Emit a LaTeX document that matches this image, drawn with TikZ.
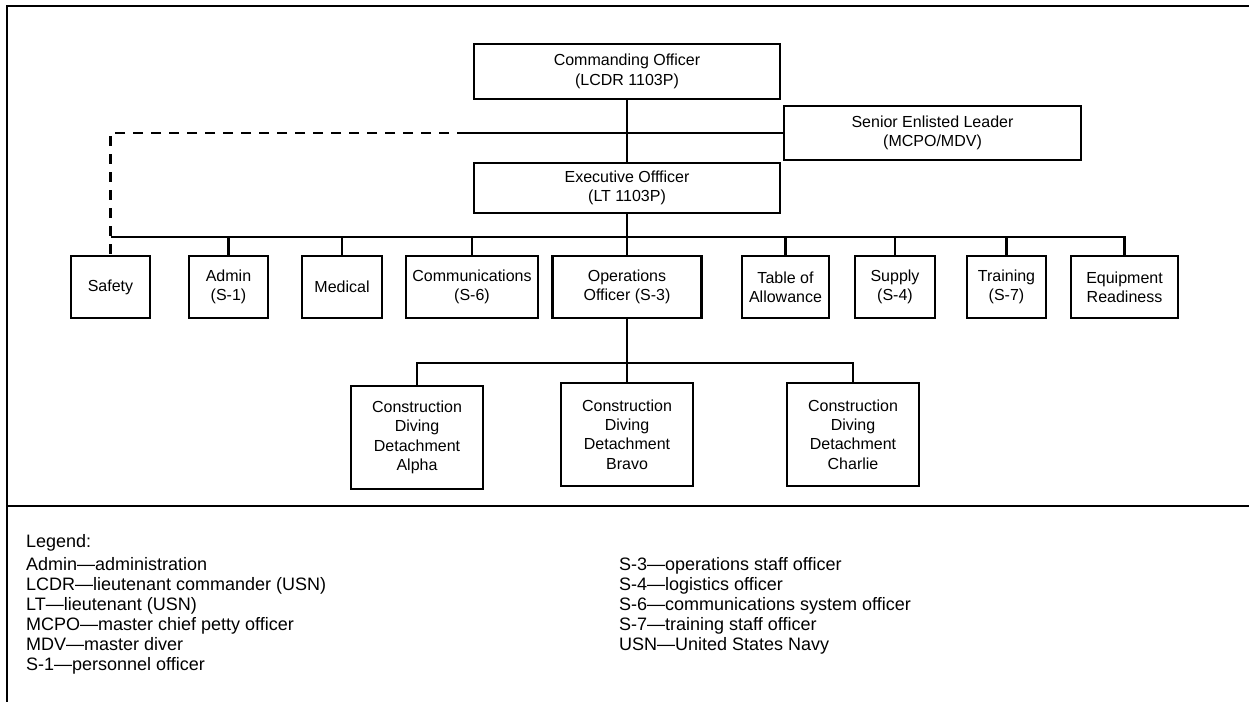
\documentclass[tikz,border=0pt]{standalone}
\usepackage{fontspec}
\setmainfont{Liberation Sans}
\begin{document}
\begin{tikzpicture}[x=.75pt,y=-.75pt,line width=1.7pt,
	box/.style={draw,align=center,inner sep=0pt,font=\fontsize{12}{14.5}\selectfont},
	leg/.style={anchor=base west,inner sep=0pt,font=\fontsize{13.5}{15}\selectfont},
	dashline/.style={dash pattern=on 7.5pt off 6pt}]
	\useasboundingbox (0,0) rectangle (1249,702);
	% khung
	\draw (7,702)--(7,6)--(1249,6);
	\draw (7,506)--(1249,506);
	\path
	(0,237) coordinate (bus)
	(0,363) coordinate (sub)
	(467,133) coordinate (dashend);
	% chỉ huy
	\node[box,minimum width=306*.75pt,minimum height=55*.75pt] (co) at (627,71.5) {Commanding Officer\\(LCDR 1103P)};
	\node[box,minimum width=297*.75pt,minimum height=54*.75pt] (sel) at (932.5,133) {Senior Enlisted Leader\\(MCPO/MDV)};
	\node[box,minimum width=306*.75pt,minimum height=50*.75pt] (xo) at (627,188) {Executive Offficer\\(LT 1103P)};
	% hàng phòng ban
	\foreach \n/\cx/\w/\t in {
		safety/110.5/79/Safety,
		admin/228.5/79/{Admin\\(S-1)},
		medical/342/80/Medical,
		comms/472/132/{Communications\\(S-6)},
		ops/627/149/{Operations\\Officer (S-3)},
		toa/785.5/87/{Table of\\Allowance},
		supply/895/80/{Supply\\(S-4)},
		training/1006.5/79/{Training\\(S-7)},
		equip/1124.5/107/{Equipment\\Readiness}}
	\node[box,minimum width=\w*.75pt,minimum height=62*.75pt] (\n) at (\cx,287) {\t};
	% phân đội
	\foreach \n/\cx/\cy/\t in {
		alpha/417/437.5/Alpha,
		bravo/627/434.5/Bravo,
		charlie/853/434.5/Charlie}
	\node[box,minimum width=132*.75pt,minimum height=103*.75pt] (\n) at (\cx,\cy) {Construction\\Diving\\Detachment\\\t};
	% đường nối
	\draw (co)--(xo);
	\draw (sel.west)--(dashend);
	\draw[dashline] (dashend)--(dashend -| safety.north)--(safety.north);
	\draw (xo.south)--(xo.south |- bus);
	\draw (bus -| safety.north)--(bus -| equip.north)--(equip.north);
	\foreach \n in {admin,medical,comms,ops,toa,supply,training}
	\draw (\n.north)--(\n.north |- bus);
	\draw (ops.south)--(bravo.north);
	\draw (alpha.north)--(alpha.north |- sub)--(charlie.north |- sub)--(charlie.north);
	% chú thích
	\node[leg] (legend) at (25,547) {Legend:};
	\foreach \t[count=\i] in {Admin—administration,
		LCDR—lieutenant commander (USN),
		LT—lieutenant (USN),
		MCPO—master chief petty officer,
		MDV—master diver,
		S-1—personnel officer}
	\node[leg] (left\i) at (25,550+20*\i) {\t};
	\foreach \t[count=\i] in {S-3—operations staff officer,
		S-4—logistics officer,
		S-6—communications system officer,
		S-7—training staff officer,
		USN—United States Navy}
	\node[leg] (right\i) at (618,550+20*\i) {\t};
\end{tikzpicture}
\end{document}
